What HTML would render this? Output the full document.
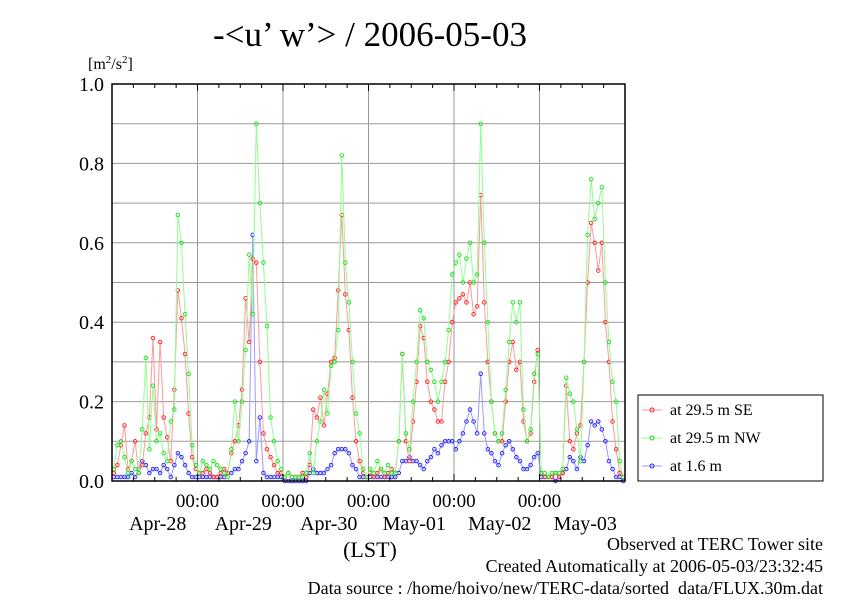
<!DOCTYPE html>
<html><head><meta charset="utf-8"><style>
body{margin:0;background:#fff;width:842px;height:595px;overflow:hidden}
svg{font-family:"Liberation Serif",serif}
</style></head><body>
<svg id="chart" width="842" height="595">
<text x="370" y="46" font-size="35" text-anchor="middle">-&lt;u’ w’&gt; / 2006-05-03</text>
<text x="88" y="69" font-size="16">[m<tspan font-size="11" dy="-6">2</tspan><tspan dy="6">/s</tspan><tspan font-size="11" dy="-6">2</tspan><tspan dy="6">]</tspan></text>
<g id="grid"></g><g id="series"></g><g id="axes"></g>
<g>
<rect x="638" y="395" width="185" height="86" fill="#fff" stroke="#000"/>
<g id="legend"></g></g>
<text x="370" y="557" font-size="22" text-anchor="middle">(LST)</text>
<text x="823" y="550" font-size="18" text-anchor="end">Observed at TERC Tower site</text>
<text x="823" y="572" font-size="18" text-anchor="end">Created Automatically at 2006-05-03/23:32:45</text>
<text x="823" y="594" font-size="18" text-anchor="end">Data source : /home/hoivo/new/TERC-data/sorted_data/FLUX.30m.dat</text>
</svg>
<script>
const dayLabels=["Apr-28","Apr-29","Apr-30","May-01","May-02","May-03"];
const yTicks=[0,0.2,0.4,0.6,0.8,1.0];
const seriesNames=["at 29.5 m SE","at 29.5 m NW","at 1.6 m"];
const redSE=[0.02,0.04,0.09,0.14,0.03,0.05,0.1,0.02,0.04,0.12,0.16,0.36,0.13,0.35,0.16,0.11,0.05,0.23,0.48,0.41,0.32,0.17,0.06,0.03,
0.02,0.02,0.03,0.02,0.01,0.01,0.02,0.03,0.02,0.07,0.1,0.14,0.23,0.46,0.35,0.56,0.55,0.3,0.12,0.08,0.06,0.04,0.02,0.02,
0.01,0.02,0.01,0.01,0.01,0.02,0.01,0.04,0.18,0.16,0.21,0.14,0.22,0.3,0.31,0.48,0.67,0.47,0.38,0.21,0.1,0.05,0.02,0.01,
0.02,0.01,0.02,0.03,0.01,0.02,0.03,0.02,0.1,0.32,0.1,0.05,0.15,0.25,0.39,0.36,0.25,0.2,0.18,0.15,0.15,0.25,0.3,0.4,
0.45,0.46,0.47,0.45,0.5,0.42,0.44,0.72,0.45,0.3,0.2,0.12,0.1,0.1,0.2,0.3,0.35,0.28,0.3,0.15,0.1,0.12,0.25,0.33,
0.02,0.01,0.01,0.01,0.02,0.01,0.02,0.24,0.1,0.08,0.12,0.14,0.3,0.5,0.65,0.6,0.53,0.6,0.4,0.3,0.15,0.08,0.02,0.01];
const greenNW=[0.03,0.09,0.1,0.06,0.02,0.05,0.03,0.02,0.13,0.31,0.08,0.24,0.1,0.12,0.07,0.05,0.15,0.18,0.67,0.6,0.42,0.27,0.09,0.04,
0.02,0.05,0.04,0.03,0.05,0.04,0.03,0.02,0.01,0.08,0.2,0.1,0.2,0.33,0.57,0.42,0.9,0.7,0.55,0.39,0.16,0.1,0.05,0.03,
0.01,0.02,0.01,0.01,0.01,0.01,0.02,0.07,0.02,0.1,0.15,0.23,0.17,0.29,0.3,0.38,0.82,0.55,0.45,0.3,0.17,0.12,0.03,0.01,
0.03,0.02,0.05,0.03,0.02,0.04,0.02,0.02,0.1,0.32,0.12,0.08,0.2,0.3,0.43,0.41,0.3,0.28,0.25,0.2,0.25,0.3,0.38,0.52,
0.55,0.57,0.5,0.56,0.6,0.5,0.52,0.9,0.6,0.4,0.2,0.12,0.1,0.12,0.23,0.35,0.45,0.4,0.45,0.18,0.1,0.13,0.27,0.32,
0.02,0.02,0.01,0.02,0.02,0.02,0.03,0.26,0.22,0.2,0.13,0.05,0.3,0.62,0.76,0.66,0.7,0.74,0.5,0.35,0.25,0.2,0.05,0.01];
const blue16=[0.01,0.01,0.01,0.01,0.01,0.02,0.01,0.03,0.05,0.04,0.02,0.03,0.03,0.02,0.04,0.03,0.01,0.04,0.07,0.06,0.04,0.02,0.01,0.01,
0.01,0.01,0.01,0.01,0.01,0.01,0.01,0.01,0.02,0.02,0.03,0.03,0.05,0.07,0.1,0.62,0.05,0.16,0.02,0.01,0.01,0.01,0.01,0.01,
0,0,0,0,0,0,0,0.02,0.03,0.02,0.02,0.02,0.03,0.04,0.07,0.08,0.08,0.08,0.07,0.04,0.03,0.01,0.01,0.01,
0.01,0.01,0.01,0.01,0.01,0.01,0.01,0.01,0.02,0.05,0.05,0.06,0.05,0.05,0.04,0.03,0.05,0.06,0.08,0.07,0.09,0.1,0.1,0.1,
0.08,0.1,0.12,0.15,0.18,0.15,0.12,0.27,0.12,0.08,0.07,0.05,0.04,0.07,0.09,0.1,0.08,0.06,0.05,0.03,0.03,0.04,0.06,0.07,
0.01,0.01,0.01,0.01,0,0.01,0.02,0.03,0.06,0.05,0.03,0.06,0.05,0.09,0.15,0.14,0.15,0.13,0.1,0.05,0.03,0.01,0.01,0];
const X0=112,X1=625,Y0=481,Y1=84,HOURS=144;
const xs=h=>X0+(X1-X0)*h/HOURS;
const ys=v=>Y0-(Y0-Y1)*v;
const NS="http://www.w3.org/2000/svg";
function mk(parent,tag,attrs){const e=document.createElementNS(NS,tag);for(const k in attrs)e.setAttribute(k,attrs[k]);document.getElementById(parent).appendChild(e);return e;}
for(let v=0.1;v<0.99;v+=0.1){const l=mk("grid","line",{x1:X0,x2:X1,y1:ys(v),y2:ys(v),stroke:"#999","stroke-width":1});

}
for(let d=1;d<6;d++){const l=mk("grid","line",{x1:xs(d*24),x2:xs(d*24),y1:Y1,y2:Y0,stroke:"#999","stroke-width":1});


const t=mk("axes","text",{x:xs(d*24),y:507,"font-size":19,"text-anchor":"middle"});t.textContent="00:00";

}
for(let h=6;h<HOURS;h+=6){mk("axes","line",{x1:xs(h),x2:xs(h),y1:Y1,y2:Y1+(h%24?4:7),stroke:"#000"});mk("axes","line",{x1:xs(h),x2:xs(h),y1:Y0,y2:Y0-(h%24?4:7),stroke:"#000"});}
dayLabels.forEach((s,i)=>{const t=mk("axes","text",{x:xs(i*24+12)+3,y:530,"font-size":20,"text-anchor":"middle"});t.textContent=s;

});
yTicks.forEach(v=>{const t=mk("axes","text",{x:104,y:ys(v)+7,"font-size":20,"text-anchor":"end"});t.textContent=v.toFixed(1);

});
const frame=mk("axes","rect",{x:X0,y:Y1,width:X1-X0,height:Y0-Y1,fill:"none",stroke:"#000","stroke-width":1.5});


const sets=[[redSE,"#ff9a9a","#ff2020"],[greenNW,"#90ff90","#20dd20"],[blue16,"#9a9aff","#2020ff"]];
[2,0,1].forEach(i=>{const [d,lc,mc]=sets[i];
const p=mk("series","polyline",{points:d.map((v,h)=>xs(h+0.5)+","+ys(v)).join(" "),fill:"none",stroke:lc,"stroke-width":1});


d.forEach((v,h)=>{const c=mk("series","circle",{cx:xs(h+0.5),cy:ys(v),r:1.8,fill:"none",stroke:mc,"stroke-width":0.9});

});});
seriesNames.forEach((n,i)=>{const y=410+i*28;
const l=mk("legend","line",{x1:642,x2:662,y1:y,y2:y,stroke:sets[i][1]});
const c=mk("legend","circle",{cx:652,cy:y,r:2,fill:"none",stroke:sets[i][2]});
const t=mk("legend","text",{x:670,y:y+5,"font-size":16});t.textContent=n;

});
</script>
</body></html>
